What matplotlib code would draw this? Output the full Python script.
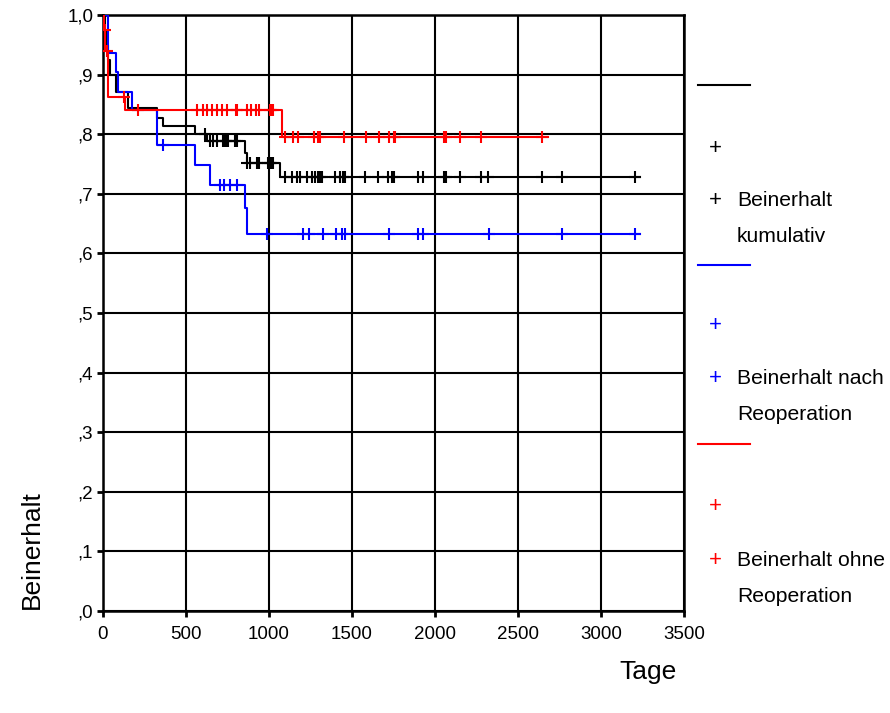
import numpy as np
import matplotlib
matplotlib.use("Agg")
import matplotlib.pyplot as plt
from matplotlib.lines import Line2D

plt.rcParams["font.family"] = ["Liberation Sans", "DejaVu Sans"]

# Kaplan-Meier curves: step times (Tage) and survival after each step
kum_t = [0, 10, 20, 30, 40, 77, 152, 323, 361, 554, 625, 855, 866, 1066]
kum_s = [1.0, 0.975, 0.95, 0.925, 0.899, 0.871, 0.844, 0.827, 0.814, 0.800, 0.789, 0.768, 0.752, 0.728]
kum_end = 3235
kum_cens = [612, 645, 663, 685, 723, 733, 743, 753, 795, 805,
            869, 886, 930, 942, 994, 1004, 1014, 1024,
            1096, 1137, 1167, 1187, 1227, 1257, 1277, 1295, 1305, 1317, 1398, 1428, 1443, 1458,
            1578, 1659, 1717, 1739, 1753, 1900, 1930, 2055, 2065, 2151, 2275, 2321, 2646, 2763, 3205]

nach_t = [0, 28, 77, 88, 173, 323, 554, 645, 855, 867]
nach_s = [1.0, 0.936, 0.905, 0.871, 0.841, 0.782, 0.748, 0.715, 0.676, 0.633]
nach_end = 3235
nach_cens = [363, 705, 731, 765, 809, 990, 1203, 1243, 1323, 1404, 1438, 1458,
             1725, 1900, 1930, 2327, 2763, 3205]

ohne_t = [0, 5, 15, 28, 132, 1076]
ohne_s = [1.0, 0.975, 0.94, 0.863, 0.841, 0.795]
ohne_end = 2680
ohne_cens = [10, 22, 125, 213, 565, 600, 625, 655, 685, 715, 745, 800, 810, 870, 890, 920, 940,
             1005, 1015, 1025, 1096, 1143, 1177, 1273, 1297, 1307, 1452, 1583, 1665, 1725,
             1750, 1760, 2055, 2065, 2151, 2277, 2646]

x_ticks = [0, 500, 1000, 1500, 2000, 2500, 3000, 3500]
y_ticks = [0.0, 0.1, 0.2, 0.3, 0.4, 0.5, 0.6, 0.7, 0.8, 0.9, 1.0]
y_labels = [",0", ",1", ",2", ",3", ",4", ",5", ",6", ",7", ",8", ",9", "1,0"]

groups = [
    (kum_t, kum_s, kum_end, kum_cens, "black", ["Beinerhalt", "kumulativ"]),
    (nach_t, nach_s, nach_end, nach_cens, "#0000ff", ["Beinerhalt nach", "Reoperation"]),
    (ohne_t, ohne_s, ohne_end, ohne_cens, "#ff0000", ["Beinerhalt ohne", "Reoperation"]),
]

W, H = 890, 713
fig = plt.figure(figsize=(W / 100, H / 100), dpi=100)
ax = fig.add_axes([103 / W, 1 - 611 / H, 581 / W, 596 / H])

for t, s, end, cens, col, _ in groups:
    t = np.array(t, dtype=float)
    s = np.array(s)
    ax.step(np.append(t, end), np.append(s, s[-1]), where="post", color=col, lw=1.5, zorder=3)
    c = np.array(cens, dtype=float)
    cy = s[np.searchsorted(t, c, side="right") - 1]
    ax.plot(c, cy, ls="none", marker="+", ms=9, mew=1.5, color=col, zorder=4)

ax.set_xlim(0, 3500)
ax.set_ylim(0, 1.0)
ax.set_xticks(x_ticks)
ax.set_yticks(y_ticks)
ax.set_yticklabels(y_labels)
ax.grid(True, color="black", lw=1.5, zorder=1)
ax.set_axisbelow(True)
for sp in ax.spines.values():
    sp.set_linewidth(1.8)
ax.tick_params(direction="out", length=4, width=2, labelsize=13.5, pad=3)
ax.tick_params(axis="x", pad=7)

fig.text(32 / W, 1 - 550 / H, "Beinerhalt", rotation=90, ha="center", va="center", fontsize=19)
fig.text(648 / W, 1 - 672 / H, "Tage", ha="center", va="center", fontsize=19)

# legend drawn on the right side like the original output
rows = [(85, 148, 201), (265, 326, 379), (444, 506, 560)]
for (ly, p1, p2), g in zip(rows, groups):
    col, lab = g[4], g[5]
    fig.add_artist(Line2D([698 / W, 750 / W], [1 - ly / H, 1 - ly / H], color=col, lw=1.5))
    for py in (p1, p2):
        fig.text(715 / W, 1 - py / H, "+", color=col, ha="center", va="center", fontsize=16)
    fig.text(737 / W, 1 - p2 / H, lab[0], ha="left", va="center", fontsize=15.2)
    fig.text(737 / W, 1 - (p2 + 36) / H, lab[1], ha="left", va="center", fontsize=15.2)

fig.savefig("out.png", dpi=100)
